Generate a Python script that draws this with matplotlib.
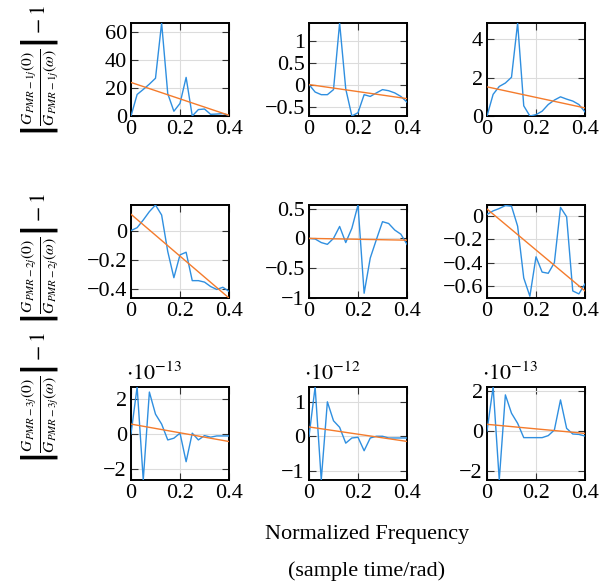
import numpy as np
import matplotlib.pyplot as plt
from matplotlib.ticker import FuncFormatter

plt.rcParams['font.family'] = ['Liberation Serif', 'DejaVu Serif']
plt.rcParams['mathtext.fontset'] = 'stix'

# normalized frequency samples
freq = [0, 0.025, 0.05, 0.075, 0.1, 0.125, 0.15, 0.175, 0.2,
        0.225, 0.25, 0.275, 0.3, 0.325, 0.35, 0.375, 0.4]
fit_x = [0, 0.4]

# row 1 (PMR-1j)
r1c1 = [0, 15.4, 19, 22.8, 27, 66.5, 16, 3.4, 9, 27.6, 0, 4.6, 5, 1.2, 1.4, 1.7, 0.5]
r1c2 = [0, -0.17, -0.23, -0.23, -0.115, 1.4, -0.1, -0.715, -0.64, -0.23, -0.27,
        -0.19, -0.115, -0.14, -0.19, -0.27, -0.4]
r1c3 = [0, 1.13, 1.54, 1.72, 2.02, 4.85, 0.53, 0, 0.07, 0.25, 0.6, 0.83, 1.0,
        0.88, 0.78, 0.6, 0.21]
# row 2 (PMR-2j)
r2c1 = [0, 0.02, 0.072, 0.129, 0.174, 0.106, -0.142, -0.32, -0.165, -0.147,
        -0.34, -0.34, -0.35, -0.38, -0.4, -0.385, -0.413]
r2c2 = [0.0, -0.01, -0.07, -0.1, 0, 0.2, -0.07, 0.17, 0.56, -0.92, -0.33,
        -0.02, 0.28, 0.25, 0.14, 0.07, -0.1]
r2c3 = [0.01, 0.04, 0.06, 0.085, 0.08, -0.09, -0.53, -0.685, -0.35, -0.48, -0.49,
        -0.40, 0.07, -0.01, -0.64, -0.665, -0.58]
# row 3 (PMR-3j), values in units of the exponent shown above each axes
r3c1 = [0, 2.69, -2.65, 2.4, 1.13, 0.56, -0.35, -0.25, 0.04, -1.6, 0.04, -0.35,
        -0.1, -0.19, -0.12, -0.12, -0.12]
r3c2 = [0, 1.43, -1.27, 1.0, 0.45, 0.26, -0.2, -0.05, -0.03, -0.42, -0.05, 0.0,
        0, -0.05, -0.05, -0.05, -0.05]
r3c3 = [0, 2.18, -2.43, 1.79, 0.88, 0.38, -0.33, -0.33, -0.33, -0.33, -0.23,
        0.05, 1.54, 0.13, -0.15, -0.17, -0.25]

# linear fits (values at x=0 and x=0.4)
fits = [[24.0, 0.5], [0.0, -0.32], [1.52, 0.42],
        [0.111, -0.458], [0.0, -0.03], [0.056, -0.64],
        [0.56, -0.44], [0.27, -0.15], [0.33, -0.12]]

series = [r1c1, r1c2, r1c3, r2c1, r2c2, r2c3, r3c1, r3c2, r3c3]
ylims = [(0, 66.5), (-0.715, 1.4), (0, 4.85),
         (-0.458, 0.174), (-0.99, 0.56), (-0.70, 0.09),
         (-2.65, 2.69), (-1.27, 1.43), (-2.43, 2.18)]
yticks = [[0, 20, 40, 60], [-0.5, 0, 0.5, 1], [0, 2, 4],
          [-0.4, -0.2, 0], [-1, -0.5, 0, 0.5], [-0.6, -0.4, -0.2, 0],
          [-2, 0, 2], [-1, 0, 1], [-2, 0, 2]]
exps = [None, None, None, None, None, None, -13, -12, -13]
xticks = [0, 0.2, 0.4]

ylabels = [r'$\left|\frac{G_{PMR-%dj}(0)}{G_{PMR-%dj}(\omega)}\right| - 1$' % (i, i)
           for i in (1, 2, 3)]

blue = '#2f8fe0'
orange = '#f47b2c'

fmt = FuncFormatter(lambda v, p: ('%g' % v).replace('-', '\u2212'))

fig = plt.figure(figsize=(6.12, 5.86), dpi=100)
lefts = [131, 309, 487]
tops = [23, 205, 387]
W, H = 612.0, 586.0

for k in range(9):
    r, c = divmod(k, 3)
    ax = fig.add_axes([lefts[c] / W, 1 - (tops[r] + 93) / H, 98 / W, 93 / H])
    ax.plot(freq, series[k], color=blue, lw=1.0, zorder=3)
    ax.plot(fit_x, fits[k], color=orange, lw=1.0, zorder=3)
    ax.set_xlim(0, 0.4)
    ax.set_ylim(*ylims[k])
    ax.set_xticks(xticks)
    ax.set_yticks(yticks[k])
    ax.xaxis.set_major_formatter(fmt)
    ax.yaxis.set_major_formatter(fmt)
    ax.grid(True, color='#dcdcdc', lw=0.8, zorder=0)
    ax.tick_params(direction='in', length=5, width=0.8, color='#333333',
                   top=True, right=True, labelsize=16, pad=3)
    for s in ax.spines.values():
        s.set_linewidth(1.4)
    if exps[k] is not None:
        ax.text(-0.05, 1.02, r'$\cdot 10^{%d}$' % exps[k], transform=ax.transAxes,
                fontsize=16, ha='left', va='bottom')

label_y = [70, 258, 397]
for i in range(3):
    fig.text(40 / W, 1 - label_y[i] / H, ylabels[i], rotation=90, fontsize=16,
             ha='center', va='center')

fig.text(367 / W, 1 - 535 / H, 'Normalized Frequency', fontsize=16,
         ha='center', va='center')
fig.text(367 / W, 1 - 571 / H, '(sample time/rad)', fontsize=16,
         ha='center', va='center')

fig.savefig('out.png', dpi=100)
